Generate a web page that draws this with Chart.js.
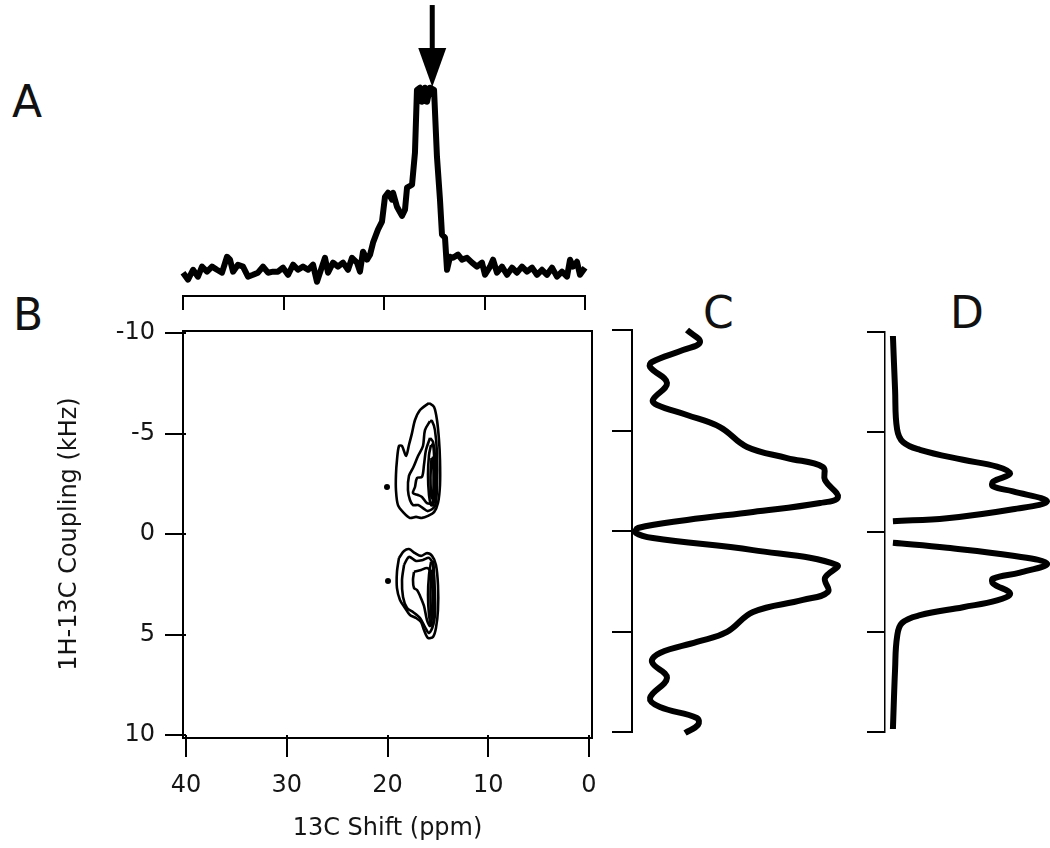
<!DOCTYPE html>
<html>
<head>
<meta charset="utf-8">
<script src="https://cdn.jsdelivr.net/npm/chart.js@4"></script>
<style>
  body { margin: 0; background: #fff; width: 1050px; height: 848px; position: relative; overflow: hidden; font-family: "DejaVu Sans", sans-serif; }
  canvas { position: absolute; }
  .tag { position: absolute; font-size: 44px; line-height: 1; color: #111; }
</style>
</head>
<body>
<div class="tag" style="left:12px;top:80px">A</div>
<div class="tag" style="left:13px;top:293px">B</div>
<div class="tag" style="left:703px;top:291px">C</div>
<div class="tag" style="left:950px;top:291px">D</div>

<canvas id="chartA" width="430" height="312" style="left:170px;top:0px"></canvas>
<canvas id="chartB" width="620" height="548" style="left:0px;top:300px"></canvas>
<canvas id="chartC" width="260" height="440" style="left:600px;top:310px"></canvas>
<canvas id="chartD" width="190" height="440" style="left:860px;top:310px"></canvas>

<script>
// ---- data ----
const shiftTicks = [40, 30, 20, 10, 0];
const couplingTicks = [-10, -5, 0, 5, 10];

// A: 1D 13C spectrum
const shiftPpm = [40.0,39.5,39.0,38.51,38.11,37.61,37.11,36.62,36.12,35.62,
  35.32,35.02,34.53,34.03,33.53,33.03,32.54,32.04,31.54,31.04,
  30.55,30.05,29.55,29.05,28.56,28.06,27.56,27.06,26.67,26.17,
  25.87,25.57,25.07,24.58,24.08,23.58,23.18,22.69,22.39,22.09,
  21.69,21.39,21.09,20.6,20.2,19.9,19.6,19.2,19.1,18.71,
  18.21,17.91,17.71,17.21,16.92,16.72,16.42,16.22,15.92,15.72,
  15.42,15.02,14.73,14.43,14.23,13.93,13.73,13.43,13.13,12.64,
  12.24,11.74,11.24,10.75,10.25,9.95,9.45,9.15,8.76,8.26,
  7.76,7.26,6.77,6.27,5.77,5.27,4.78,4.28,3.78,3.28,
  2.79,2.29,1.79,1.49,1.19,0.8,0.5,0.0];
const intensityA = [8.1,4.8,9.5,6.2,11.0,8.6,11.0,9.5,8.1,15.7,
  14.3,8.6,11.9,11.0,6.2,7.1,8.1,11.0,8.1,8.6,
  8.6,10.5,7.1,11.9,9.5,11.0,9.5,11.9,3.8,11.0,
  15.2,8.1,12.9,11.0,12.9,9.5,15.2,12.9,8.6,18.1,
  14.3,16.7,22.4,28.6,32.4,44.3,46.2,42.9,46.2,39.5,
  35.2,38.1,48.6,50.0,65.2,95.2,96.2,89.5,96.2,89.5,
  96.2,95.2,63.3,42.9,26.2,24.8,9.5,15.7,15.2,16.7,
  14.3,15.2,12.9,11.0,12.9,7.1,11.0,14.3,8.1,11.0,
  7.1,10.5,8.1,11.0,8.6,10.5,7.1,9.5,7.1,10.5,
  6.2,8.6,6.2,14.3,11.0,13.3,7.1,10.5];
const arrowShift = 15.2;
const arrowTip = 96.6;
const arrowTail = 135.6;

// B: 2D contours [ppm, kHz]
const upperLevel1 = [[15.88,-6.52],[16.77,-6.17],[17.27,-5.67],[17.57,-5.02],[17.87,-4.43],[18.16,-3.88],[18.56,-4.38],[18.86,-4.38],[19.06,-3.68],[19.16,-2.94],[19.16,-2.19],[18.96,-1.44],[18.36,-1.04],[17.77,-0.80],[17.17,-0.85],[16.58,-0.80],[15.98,-0.90],[15.38,-1.09],[14.99,-1.54],[14.79,-2.44],[14.79,-3.68],[14.89,-4.68],[15.09,-5.67],[15.38,-6.32]];
const upperLevel2 = [[15.78,-5.62],[16.28,-5.17],[16.48,-4.38],[16.97,-3.88],[17.47,-3.28],[17.87,-2.89],[17.97,-2.19],[17.77,-1.69],[17.47,-1.44],[16.97,-1.44],[16.48,-1.29],[15.98,-1.14],[15.29,-1.39],[15.09,-2.34],[15.09,-4.03],[15.29,-5.17],[15.58,-5.62]];
const upperLevel3 = [[15.78,-4.78],[16.18,-4.18],[16.38,-3.43],[16.58,-2.84],[17.07,-2.79],[17.27,-2.34],[17.47,-2.04],[16.97,-1.94],[16.58,-1.84],[16.08,-1.54],[15.58,-1.54],[15.38,-2.19],[15.29,-3.83],[15.48,-4.58]];
const upperLevel4 = [[15.68,-4.43],[15.88,-3.93],[15.98,-2.94],[15.88,-1.94],[15.68,-1.44],[15.48,-1.44],[15.29,-1.94],[15.29,-2.94],[15.38,-3.93],[15.48,-4.43]];
const upperLevel5 = [[15.63,-3.78],[15.73,-2.79],[15.63,-1.79],[15.48,-1.79],[15.43,-2.79],[15.48,-3.78]];
const lowerLevel1 = [[18.86,1.19],[18.36,0.85],[17.87,0.75],[17.27,0.95],[16.67,1.09],[16.08,0.95],[15.58,1.09],[15.19,1.54],[14.99,2.54],[14.99,3.78],[15.19,4.68],[15.48,5.12],[15.98,5.17],[16.38,4.78],[16.67,4.38],[17.17,4.18],[17.77,4.03],[18.26,3.68],[18.76,3.28],[19.06,2.69],[19.06,1.89]];
const lowerLevel2 = [[18.36,1.54],[17.87,1.14],[17.17,1.34],[16.48,1.29],[15.88,1.19],[15.48,1.54],[15.38,3.13],[15.48,4.53],[15.88,4.93],[16.28,4.63],[16.77,4.18],[17.47,3.88],[18.06,3.68],[18.46,3.13],[18.56,2.29]];
const lowerLevel3 = [[17.37,1.89],[16.67,1.79],[16.08,1.69],[15.68,1.89],[15.48,2.79],[15.58,4.03],[15.78,4.58],[16.08,4.28],[16.38,3.58],[16.77,3.08],[17.07,2.79],[17.37,2.69],[17.47,2.29]];
const lowerLevel4 = [[15.68,1.39],[15.88,2.04],[15.98,3.03],[15.88,4.03],[15.68,4.53],[15.48,4.53],[15.29,4.03],[15.29,3.03],[15.38,2.04],[15.48,1.39]];
const lowerLevel5 = [[15.63,1.79],[15.73,3.03],[15.63,4.18],[15.48,4.18],[15.43,3.03],[15.48,1.79]];
const isolatedPeaks = [[20.05,-2.34],[19.95,2.34]];

// C: slice
const couplingC = [-10.0,-9.40,-9.00,-8.41,-8.16,-7.36,-6.52,-6.27,-5.77,-5.17,
  -4.18,-3.63,-3.18,-2.54,-1.69,-1.39,-0.95,-0.55,-0.15,0.10,
  0.35,0.95,1.69,2.34,3.03,3.43,4.03,5.02,5.52,6.07,
  6.52,7.31,8.31,8.76,9.30,9.65,10.05];
const intensityC = [25.0,30.9,23.2,9.1,8.2,15.9,9.5,11.4,25.0,40.0,
  52.3,70.5,86.8,87.7,93.6,85.5,55.0,25.0,2.7,1.8,
  9.5,55.0,93.2,87.7,89.1,77.7,55.0,43.2,29.5,12.7,
  9.1,15.9,8.2,12.7,29.5,30.0,24.1];

// D: simulation
const couplingDUpper = [-9.8,-7.13,-5.15,-4.5,-4.11,-3.61,-3.27,-2.92,-2.52,-2.28,-2.03,-1.53,-1.14,-0.69,-0.54];
const intensityDUpper = [4.8,6.1,7.3,10.9,21.2,47.3,67.9,75.8,65.5,65.5,77.6,98.2,77.6,37.6,4.8];
const couplingDLower = [0.54,0.79,1.19,1.58,2.03,2.33,2.57,3.07,3.42,3.76,4.16,4.55,5.25,6.88,9.85];
const intensityDLower = [4.8,37.6,77.6,98.2,81.8,65.5,65.5,75.8,67.9,47.3,21.2,10.3,7.3,6.1,4.8];

// ---- shared bits ----
const INK = '#000';
const TEXT = '#151515';
const FONT = '"DejaVu Sans", sans-serif';
const baseOptions = {
  responsive: false,
  animation: false,
  events: [],
  plugins: { legend: { display: false }, tooltip: { enabled: false } }
};
const setTicks = (values) => (scale) => { scale.ticks = values.map(v => ({ value: v })); };

const arrowPlugin = {
  id: 'peakArrow',
  afterDatasetsDraw(chart) {
    const { ctx, scales: { x, y } } = chart;
    const px = x.getPixelForValue(arrowShift);
    const tip = y.getPixelForValue(arrowTip);
    const tail = y.getPixelForValue(arrowTail);
    ctx.save();
    ctx.fillStyle = INK;
    ctx.fillRect(px - 2.5, tail, 5, tip - tail - 36);
    ctx.beginPath();
    ctx.moveTo(px - 14, tip - 39);
    ctx.lineTo(px + 14, tip - 39);
    ctx.lineTo(px, tip);
    ctx.closePath();
    ctx.fill();
    ctx.restore();
  }
};

const framePlugin = {
  id: 'frame',
  beforeDatasetsDraw(chart) {
    const { ctx, chartArea: a } = chart;
    ctx.save();
    ctx.strokeStyle = INK;
    ctx.lineWidth = 2;
    ctx.strokeRect(a.left - 3, a.top - 2, a.right - a.left + 6, a.bottom - a.top + 5);
    ctx.restore();
  }
};

// ---- A ----
new Chart(document.getElementById('chartA'), {
  type: 'scatter',
  data: {
    datasets: [{
      data: shiftPpm.map((x, i) => ({ x, y: intensityA[i] })),
      showLine: true, borderColor: INK, borderWidth: 6, pointRadius: 0, tension: 0, clip: 6,
      borderJoinStyle: 'round'
    }]
  },
  options: {
    ...baseOptions,
    layout: { padding: { left: 13, right: 15, top: 0, bottom: 0 } },
    scales: {
      x: {
        type: 'linear', min: 0, max: 40, reverse: true,
        afterBuildTicks: setTicks(shiftTicks),
        afterFit: (s) => { s.height = 16; },
        border: { display: true, color: INK, width: 2 },
        grid: { drawOnChartArea: false, drawTicks: true, tickLength: 14, color: INK, lineWidth: 2 },
        ticks: { display: false }
      },
      y: { display: false, min: -3, max: 138 }
    }
  },
  plugins: [arrowPlugin]
});

// ---- B ----
const contourLevels = [upperLevel1, upperLevel2, upperLevel3, upperLevel4, upperLevel5,
  lowerLevel1, lowerLevel2, lowerLevel3, lowerLevel4, lowerLevel5];
const contourSets = contourLevels.map(level => ({
  data: level.concat([level[0]]).map(([x, y]) => ({ x, y })),
  showLine: true, borderColor: INK, borderWidth: 2.6, pointRadius: 0, tension: 0.3
}));
contourSets.push({
  data: isolatedPeaks.map(([x, y]) => ({ x, y })),
  showLine: false, pointRadius: 3, backgroundColor: INK, borderWidth: 0
});

new Chart(document.getElementById('chartB'), {
  type: 'scatter',
  data: { datasets: contourSets },
  options: {
    ...baseOptions,
    layout: { padding: { left: 0, right: 31, top: 33, bottom: 0 } },
    scales: {
      x: {
        type: 'linear', min: 0, max: 40, reverse: true,
        afterBuildTicks: setTicks(shiftTicks),
        afterFit: (s) => { s.height = 113; },
        border: { display: false },
        grid: { drawOnChartArea: false, tickLength: 22, color: INK, lineWidth: 2 },
        ticks: { color: TEXT, font: { family: FONT, size: 24 }, padding: 14, maxRotation: 0 },
        title: { display: true, text: '13C Shift (ppm)', color: TEXT, font: { family: FONT, size: 24 }, padding: { top: 0, bottom: 5 } }
      },
      y: {
        type: 'linear', min: -10, max: 10, reverse: true,
        afterBuildTicks: setTicks(couplingTicks),
        afterFit: (s) => { s.width = 186; },
        border: { display: false },
        grid: { drawOnChartArea: false, tickLength: 21, color: INK, lineWidth: 2 },
        ticks: { color: TEXT, font: { family: FONT, size: 24 }, padding: 10 },
        title: { display: true, text: '1H-13C Coupling (kHz)', color: TEXT, font: { family: FONT, size: 24 }, padding: { top: 55, bottom: 0 } }
      }
    }
  },
  plugins: [framePlugin]
});

// ---- C and D (vertical slices) ----
function sliceChart(id, datasets, axisWidth, tickLength, borderWidth, padding) {
  return new Chart(document.getElementById(id), {
    type: 'scatter',
    data: { datasets },
    options: {
      ...baseOptions,
      layout: { padding },
      scales: {
        x: { type: 'linear', display: false, min: 0, max: 100 },
        y: {
          type: 'linear', min: -10, max: 10, reverse: true,
          afterBuildTicks: setTicks(couplingTicks),
          afterFit: (s) => { s.width = axisWidth; },
          border: { display: true, color: INK, width: borderWidth },
          grid: { drawOnChartArea: false, tickLength, color: INK, lineWidth: 2 },
          ticks: { display: false }
        }
      }
    }
  });
}

const traceStyle = { showLine: true, borderColor: INK, borderWidth: 6, pointRadius: 0, tension: 0.4, clip: 8 };

sliceChart('chartC', [{
  ...traceStyle,
  data: couplingC.map((y, i) => ({ x: intensityC[i], y }))
}], 32, 20, 2, { left: 0, right: 8, top: 20, bottom: 18 });

sliceChart('chartD', [
  { ...traceStyle, data: couplingDUpper.map((y, i) => ({ x: intensityDUpper[i], y })) },
  { ...traceStyle, data: couplingDLower.map((y, i) => ({ x: intensityDLower[i], y })) }
], 25, 18, 1.5, { left: 0, right: 0, top: 22, bottom: 18 });
</script>
</body>
</html>
